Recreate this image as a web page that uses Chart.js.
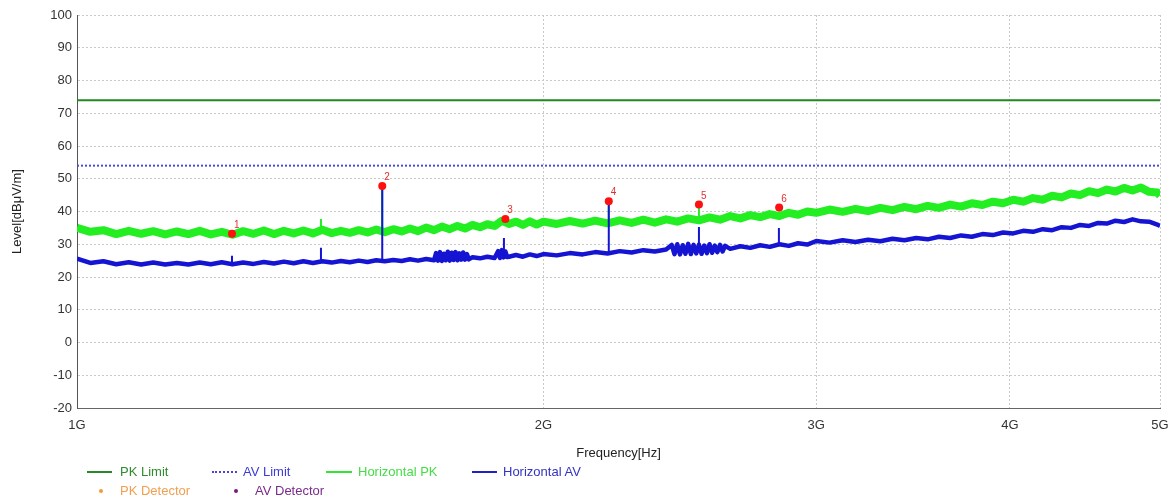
<!DOCTYPE html>
<html>
<head>
<meta charset="utf-8">
<script src="https://cdn.jsdelivr.net/npm/chart.js@4/dist/chart.umd.min.js"></script>
<style>
  html, body { margin: 0; padding: 0; background: #fff; }
  #wrap { position: relative; width: 1175px; height: 500px; font-family: "Liberation Sans", Arial, sans-serif; }
  #c { position: absolute; left: 0; top: 0; }
  .lg { position: absolute; font-size: 13px; line-height: 15px; white-space: nowrap; }
  .ln { position: absolute; height: 0; }
  .dot { position: absolute; width: 4px; height: 4px; border-radius: 50%; }
</style>
</head>
<body>
<div id="wrap">
  <canvas id="c" width="1175" height="500"></canvas>
  <div class="ln" style="left:87px; top:471px; width:25px; border-top:2px solid #2a8a2a;"></div>
  <div class="lg" style="left:120px; top:464px; color:#2e8b2e;">PK Limit</div>
  <div class="ln" style="left:212px; top:471px; width:25px; border-top:2px dotted #4646dc;"></div>
  <div class="lg" style="left:243px; top:464px; color:#3c3cd8;">AV Limit</div>
  <div class="ln" style="left:326px; top:471px; width:26px; border-top:2px solid #33e633;"></div>
  <div class="lg" style="left:358px; top:464px; color:#44dd44;">Horizontal PK</div>
  <div class="ln" style="left:472px; top:471px; width:25px; border-top:2px solid #2222c0;"></div>
  <div class="lg" style="left:503px; top:464px; color:#3333c4;">Horizontal AV</div>
  <div class="dot" style="left:99px; top:489px; background:#f59a3a;"></div>
  <div class="lg" style="left:120px; top:483px; color:#f0a050;">PK Detector</div>
  <div class="dot" style="left:234px; top:489px; background:#7a1a7a;"></div>
  <div class="lg" style="left:255px; top:483px; color:#7a2a8a;">AV Detector</div>
</div>
<script>
// ---- data (frequency in MHz, level in dBµV/m) ----
const pkFreqMHz = [1000,1020,1040,1060,1080,1100,1120,1140,1160,1180,1200,1220,1240,1260,1280,1300,1320,1340,1360,1380,
  1400,1420,1440,1460,1480,1500,1520,1540,1560,1580,1600,1620,1640,1660,1680,1700,1720,1740,1760,1780,
  1800,1820,1840,1860,1880,1900,1920,1940,1960,1980,
  2000,2040,2080,2120,2160,2200,2240,2280,2320,2360,2400,2440,2480,2520,2560,2600,2640,2680,2720,2760,
  2800,2840,2880,2920,2960,
  3000,3060,3120,3180,3240,3300,3360,3420,3480,3540,3600,3660,3720,3780,3840,3900,3960,4020,4080,4140,
  4200,4260,4320,4380,4440,4500,4560,4620,4680,4740,4800,4860,4920,4980,5000];

const horizontalPK = [35.0,33.8,34.3,33.1,34.1,33.2,34.0,33.0,33.9,33.1,34.1,33.0,33.8,32.9,34.0,33.2,34.2,33.1,34.1,33.3,
  34.2,33.3,34.4,33.4,34.1,33.5,34.3,33.6,34.5,33.7,34.6,33.9,34.8,34.0,35.1,34.3,35.4,34.6,35.6,34.8,
  35.9,35.2,36.1,35.6,37.2,36.2,36.9,35.9,37.0,36.0,
  36.9,36.2,37.1,36.3,37.2,36.4,37.3,36.5,37.5,36.6,37.6,36.9,37.9,37.3,38.2,37.5,38.6,37.9,38.9,38.3,
  39.2,38.6,39.6,39.0,40.0,
  39.6,40.6,39.9,40.8,40.1,41.1,40.4,41.4,40.7,41.7,41.1,42.1,41.5,42.5,42.0,43.0,42.5,43.6,43.0,44.1,
  43.6,44.8,44.3,45.5,45.0,46.2,45.6,46.7,46.1,47.2,46.4,47.3,46.0,45.8,44.9];

const avFreqMHz = [1000,1020,1040,1060,1080,1100,1120,1140,1160,1180,1200,1220,1240,1260,1280,1300,1320,1340,1360,1380,
  1400,1420,1440,1460,1480,1500,1520,1540,1560,1580,1600,1620,1640,1660,1680,1700,
  1705,1710,1715,1720,1725,1730,1735,1740,1745,1750,1755,1760,1765,1770,1775,1780,1785,1790,
  1800,1820,1840,1860,1870,1875,1880,1885,1890,1895,1900,1920,1940,1960,1980,
  2000,2040,2080,2120,2160,2200,2240,2280,2320,2360,2400,
  2420,2430,2440,2450,2460,2470,2480,2490,2500,2510,2520,2530,2540,2550,2560,2570,2580,2590,2600,2610,2620,
  2640,2680,2720,2760,2800,2840,2880,2920,2960,
  3000,3060,3120,3180,3240,3300,3360,3420,3480,3540,3600,3660,3720,3780,3840,3900,3960,4020,4080,4140,
  4200,4260,4320,4380,4440,4500,4560,4620,4680,4740,4800,4860,4920,4980,5000];

const horizontalAV = [25.6,24.3,24.8,23.9,24.5,23.8,24.4,23.8,24.3,23.8,24.4,23.9,24.5,23.9,24.4,24.0,24.6,24.1,24.7,24.2,
  24.8,24.3,24.8,24.4,24.9,24.5,25.0,24.6,25.1,24.8,25.2,24.9,25.4,25.0,25.5,25.1,
  27.3,25.0,27.6,24.9,27.1,25.1,27.7,25.0,27.4,25.2,27.6,25.1,27.2,25.3,27.5,25.3,27.0,25.4,
  26.0,25.7,26.2,25.8,27.9,25.8,28.2,26.0,27.8,26.1,26.2,26.7,26.2,26.9,26.4,
  27.0,26.6,27.3,26.9,27.6,27.2,27.9,27.5,28.2,27.8,28.4,
  29.8,27.0,30.0,26.9,29.7,27.1,30.1,27.0,29.8,27.2,29.9,27.1,29.6,27.3,30.0,27.4,29.6,27.6,29.8,27.8,29.5,
  28.6,29.4,28.9,29.7,29.2,30.0,29.5,30.3,29.9,
  31.0,30.5,31.2,30.7,31.4,30.9,31.7,31.2,31.9,31.5,32.3,31.9,32.7,32.3,33.1,32.8,33.6,33.3,34.1,33.8,
  34.6,34.3,35.2,35.0,35.9,35.6,36.5,36.3,37.2,36.8,37.6,37.0,36.9,36.0,35.6];

// narrow spikes
const avSpikeFreq = [1259, 1437, 1574, 1886, 2204, 2520, 2838];
const avSpikeBase = [24.2, 24.4, 25.0, 26.0, 27.3, 28.5, 29.8];
const avSpikeTop  = [26.5, 28.9, 47.6, 31.9, 43.0, 35.3, 35.0];
const pkSpikeFreq = [1437, 1574, 2204, 2520];
const pkSpikeBase = [34.0, 34.5, 37.0, 38.0];
const pkSpikeTop  = [37.7, 47.6, 43.0, 41.5];

// limits
const limitFreq = [1000, 5000];
const pkLimit = [74, 74];
const avLimit = [54, 54];

// detector markers
const markerLabels = ['1','2','3','4','5','6'];
const markerFreq  = [1259, 1574, 1890, 2204, 2520, 2839];
const markerLevel = [33.2, 47.8, 37.7, 43.1, 42.1, 41.2];

// axes
const xTickValues = [1000, 2000, 3000, 4000, 5000];
const xTickLabels = ['1G', '2G', '3G', '4G', '5G'];
const yMin = -20, yMax = 100, yStep = 10;

// ---- build ----
const xy = (xs, ys) => xs.map((x, i) => ({x: x, y: ys[i]}));
const spikes = (fs, b, t) => {
  const out = [];
  fs.forEach((f, i) => { out.push({x: f, y: b[i]}, {x: f, y: t[i]}, {x: f, y: null}); });
  return out;
};

const markerLabelPlugin = {
  id: 'markerLabels',
  afterDatasetsDraw(chart) {
    const meta = chart.getDatasetMeta(0);
    const ctx = chart.ctx;
    ctx.save();
    ctx.fillStyle = '#e03030';
    ctx.font = '10px "Liberation Sans", Arial, sans-serif';
    ctx.textAlign = 'left';
    ctx.textBaseline = 'alphabetic';
    meta.data.forEach((pt, i) => {
      ctx.fillText(markerLabels[i], pt.x + 2, pt.y - 6);
    });
    ctx.restore();
  }
};

const FONT = '"Liberation Sans", Arial, sans-serif';

new Chart(document.getElementById('c'), {
  type: 'line',
  data: {
    datasets: [
      { label: 'Markers', data: xy(markerFreq, markerLevel), showLine: false,
        pointRadius: 4, pointBackgroundColor: '#ff1010', pointBorderWidth: 0, order: 0 },
      { label: 'AV spikes', data: spikes(avSpikeFreq, avSpikeBase, avSpikeTop), borderColor: '#1414d2',
        borderWidth: 2, pointRadius: 0, spanGaps: false, order: 1 },
      { label: 'Horizontal AV', data: xy(avFreqMHz, horizontalAV), borderColor: '#1414d2',
        borderWidth: 4.5, borderJoinStyle: 'round', pointRadius: 0, order: 2 },
      { label: 'PK spikes', data: spikes(pkSpikeFreq, pkSpikeBase, pkSpikeTop), borderColor: '#22ee22',
        borderWidth: 2, pointRadius: 0, spanGaps: false, order: 3 },
      { label: 'Horizontal PK', data: xy(pkFreqMHz, horizontalPK), borderColor: '#22ee22',
        borderWidth: 8, borderJoinStyle: 'round', pointRadius: 0, order: 4 },
      { label: 'AV Limit', data: xy(limitFreq, avLimit), borderColor: '#4a4ae0',
        borderWidth: 2, borderDash: [2, 2], pointRadius: 0, order: 5 },
      { label: 'PK Limit', data: xy(limitFreq, pkLimit), borderColor: '#1f8a1f',
        borderWidth: 2, pointRadius: 0, order: 6 }
    ]
  },
  options: {
    responsive: false,
    animation: false,
    events: [],
    layout: { padding: { top: 15, right: 15, bottom: 30, left: 0 } },
    elements: { line: { tension: 0 } },
    plugins: { legend: { display: false }, tooltip: { enabled: false } },
    scales: {
      x: {
        type: 'logarithmic',
        min: 1000, max: 5000,
        afterBuildTicks: (s) => { s.ticks = xTickValues.map(v => ({value: v})); },
        afterFit: (s) => { s.height = 62; s.paddingRight = 0; s.paddingLeft = 0; },
        ticks: {
          autoSkip: false, maxRotation: 0, padding: 10, color: '#333',
          font: { family: FONT, size: 13 },
          callback: (v) => { const i = xTickValues.indexOf(v); return i >= 0 ? xTickLabels[i] : ''; }
        },
        grid: { color: '#c9c9c9', lineWidth: 1, drawTicks: false, borderDash: [2, 2] },
        border: { display: true, color: '#666', width: 1, dash: [2, 2] },
        title: { display: true, text: 'Frequency[Hz]', color: '#222',
          font: { family: FONT, size: 13 }, padding: { top: 0, bottom: 9 } }
      },
      y: {
        min: yMin, max: yMax,
        afterFit: (s) => { s.width = 77; },
        ticks: { stepSize: yStep, padding: 5, color: '#333', font: { family: FONT, size: 13 } },
        grid: { color: '#c9c9c9', lineWidth: 1, drawTicks: false, borderDash: [2, 2] },
        border: { display: true, color: '#555', width: 1, dash: [2, 2] },
        title: { display: true, text: 'Level[dBμV/m]', color: '#222',
          font: { family: FONT, size: 13 }, padding: { top: 10, bottom: 0 } }
      }
    }
  },
  plugins: [markerLabelPlugin]
});
</script>
</body>
</html>
